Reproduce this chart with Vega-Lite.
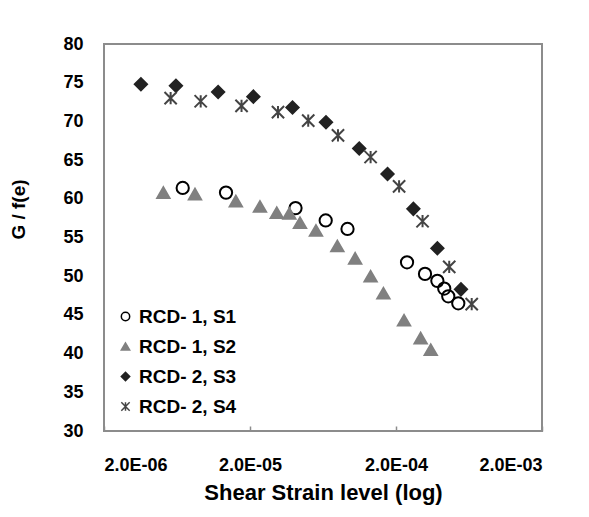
{
  "$schema": "https://vega.github.io/schema/vega-lite/v6.json",
  "width": 438,
  "height": 387,
  "autosize": {"type": "none"},
  "padding": {"left": 104, "top": 44, "right": 47, "bottom": 86},
  "background": "white",
  "config": {
    "font": "Liberation Sans",
    "view": {"stroke": "#8c8c8c", "strokeWidth": 2},
    "axis": {"grid": false, "domain": false, "labelFont": "Liberation Sans", "titleFont": "Liberation Sans", "labelColor": "black", "titleColor": "black"}
  },
  "data": {
    "values": [
      {"series": "RCD- 1, S1", "strain": 6.92e-6, "g": 61.4},
      {"series": "RCD- 1, S1", "strain": 1.37e-5, "g": 60.8},
      {"series": "RCD- 1, S1", "strain": 4.10e-5, "g": 58.8},
      {"series": "RCD- 1, S1", "strain": 6.60e-5, "g": 57.2},
      {"series": "RCD- 1, S1", "strain": 9.31e-5, "g": 56.1},
      {"series": "RCD- 1, S1", "strain": 2.38e-4, "g": 51.8},
      {"series": "RCD- 1, S1", "strain": 3.16e-4, "g": 50.3},
      {"series": "RCD- 1, S1", "strain": 3.84e-4, "g": 49.4},
      {"series": "RCD- 1, S1", "strain": 4.28e-4, "g": 48.4},
      {"series": "RCD- 1, S1", "strain": 4.56e-4, "g": 47.4},
      {"series": "RCD- 1, S1", "strain": 5.34e-4, "g": 46.5},
      {"series": "RCD- 1, S2", "strain": 5.10e-6, "g": 60.8},
      {"series": "RCD- 1, S2", "strain": 8.40e-6, "g": 60.6},
      {"series": "RCD- 1, S2", "strain": 1.60e-5, "g": 59.7},
      {"series": "RCD- 1, S2", "strain": 2.34e-5, "g": 59.0},
      {"series": "RCD- 1, S2", "strain": 3.05e-5, "g": 58.2},
      {"series": "RCD- 1, S2", "strain": 3.72e-5, "g": 58.1},
      {"series": "RCD- 1, S2", "strain": 4.40e-5, "g": 56.9},
      {"series": "RCD- 1, S2", "strain": 5.66e-5, "g": 55.9},
      {"series": "RCD- 1, S2", "strain": 7.93e-5, "g": 53.9},
      {"series": "RCD- 1, S2", "strain": 1.05e-4, "g": 52.3},
      {"series": "RCD- 1, S2", "strain": 1.34e-4, "g": 50.0},
      {"series": "RCD- 1, S2", "strain": 1.64e-4, "g": 47.8},
      {"series": "RCD- 1, S2", "strain": 2.27e-4, "g": 44.3},
      {"series": "RCD- 1, S2", "strain": 2.95e-4, "g": 42.0},
      {"series": "RCD- 1, S2", "strain": 3.46e-4, "g": 40.5},
      {"series": "RCD- 2, S3", "strain": 3.58e-6, "g": 74.8},
      {"series": "RCD- 2, S3", "strain": 6.22e-6, "g": 74.6},
      {"series": "RCD- 2, S3", "strain": 1.21e-5, "g": 73.8},
      {"series": "RCD- 2, S3", "strain": 2.11e-5, "g": 73.2},
      {"series": "RCD- 2, S3", "strain": 3.91e-5, "g": 71.8},
      {"series": "RCD- 2, S3", "strain": 6.63e-5, "g": 69.9},
      {"series": "RCD- 2, S3", "strain": 1.12e-4, "g": 66.5},
      {"series": "RCD- 2, S3", "strain": 1.75e-4, "g": 63.2},
      {"series": "RCD- 2, S3", "strain": 2.63e-4, "g": 58.7},
      {"series": "RCD- 2, S3", "strain": 3.84e-4, "g": 53.6},
      {"series": "RCD- 2, S3", "strain": 5.57e-4, "g": 48.3},
      {"series": "RCD- 2, S4", "strain": 5.72e-6, "g": 73.0},
      {"series": "RCD- 2, S4", "strain": 9.19e-6, "g": 72.6},
      {"series": "RCD- 2, S4", "strain": 1.75e-5, "g": 72.0},
      {"series": "RCD- 2, S4", "strain": 3.11e-5, "g": 71.2},
      {"series": "RCD- 2, S4", "strain": 5.01e-5, "g": 70.1},
      {"series": "RCD- 2, S4", "strain": 8.01e-5, "g": 68.2},
      {"series": "RCD- 2, S4", "strain": 1.34e-4, "g": 65.4},
      {"series": "RCD- 2, S4", "strain": 2.10e-4, "g": 61.6},
      {"series": "RCD- 2, S4", "strain": 3.04e-4, "g": 57.1},
      {"series": "RCD- 2, S4", "strain": 4.63e-4, "g": 51.2},
      {"series": "RCD- 2, S4", "strain": 6.60e-4, "g": 46.4}
    ]
  },
  "mark": {"type": "point", "filled": true, "size": 150, "strokeWidth": 2, "opacity": 1},
  "encoding": {
    "x": {
      "field": "strain", "type": "quantitative",
      "scale": {"type": "log", "domain": [2e-6, 2e-3], "nice": false},
      "axis": {
        "values": [2e-6, 2e-5, 2e-4, 2e-3],
        "labelExpr": "replace(format(datum.value, '.1e'), 'e-', 'E-0')",
        "labelFontSize": 18, "labelFontWeight": "bold", "labelPadding": 30,
        "ticks": true, "tickSize": -5, "tickColor": "#8c8c8c", "tickWidth": 1.5,
        "title": "Shear Strain level (log)", "titleFontSize": 22, "titleFontWeight": "bold", "titlePadding": 8
      }
    },
    "y": {
      "field": "g", "type": "quantitative",
      "scale": {"domain": [30, 80], "nice": false, "zero": false},
      "axis": {
        "values": [30, 35, 40, 45, 50, 55, 60, 65, 70, 75, 80],
        "labelFontSize": 18, "labelFontWeight": "bold", "labelPadding": 21, "ticks": false,
        "title": "G / f(e)", "titleFontSize": 19, "titleFontWeight": "bold",
        "titleAngle": -90, "titleAlign": "center", "titleBaseline": "bottom",
        "titleX": -76, "titleY": 165
      }
    },
    "shape": {
      "field": "series", "type": "nominal",
      "scale": {"range": ["circle", "triangle-up", "diamond", "M-1,-1L1,1M-1,1L1,-1M0,-1L0,1"]},
      "legend": {
        "title": null, "orient": "none", "legendX": 12, "legendY": 263,
        "labelFontSize": 19, "labelFontWeight": "bold", "labelColor": "black",
        "symbolSize": 70, "symbolStrokeWidth": 1.5, "rowPadding": 10, "labelOffset": 4, "padding": 0
      }
    },
    "fill": {
      "field": "series", "type": "nominal",
      "scale": {"range": ["transparent", "#808080", "#222222", "transparent"]}
    },
    "stroke": {
      "field": "series", "type": "nominal",
      "scale": {"range": ["#000000", "#808080", "#222222", "#444444"]}
    }
  }
}
